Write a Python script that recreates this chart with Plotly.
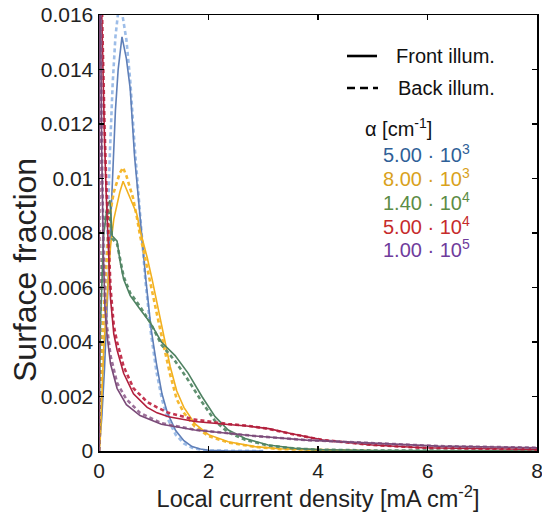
import plotly.graph_objects as go

# ---------------- data ----------------
blue_x = [0, 0.05, 0.1, 0.15, 0.2, 0.25, 0.3, 0.35, 0.42, 0.5, 0.57, 0.65, 0.75, 0.85,
          0.95, 1.05, 1.15, 1.25, 1.4, 1.55, 1.7, 1.85, 2.0, 2.3, 3.0]
blue_front = [0, 0.0012, 0.003, 0.0055, 0.008, 0.0105, 0.0125, 0.014, 0.0152, 0.0144,
              0.0133, 0.0108, 0.0085, 0.0064, 0.0045, 0.0032, 0.0021, 0.0014, 0.00075,
              0.00038, 0.00016, 0.00007, 0.00003, 0.00001, 0.0]
blue_back = [0, 0.0018, 0.0045, 0.0078, 0.011, 0.0135, 0.0152, 0.0161, 0.0161, 0.0151,
             0.0136, 0.0112, 0.0086, 0.0062, 0.0043, 0.0029, 0.0019, 0.0012, 0.0006,
             0.00028, 0.00012, 0.00005, 0.00002, 0.00001, 0.0]

yellow_x = [0, 0.02, 0.05, 0.085, 0.12, 0.16, 0.21, 0.27, 0.33, 0.38, 0.44, 0.5, 0.56,
            0.62, 0.69, 0.75, 0.82, 0.88, 0.97, 1.06, 1.2, 1.3, 1.42, 1.55, 1.75, 2.0,
            2.36, 2.85, 3.3, 4.0, 5.0]
yellow_front = [0, 0.0003, 0.0019, 0.0037, 0.0048, 0.006, 0.0075, 0.0085, 0.0091, 0.0095,
                0.0099, 0.0096, 0.0093, 0.009, 0.0087, 0.0081, 0.0076, 0.0071, 0.0063,
                0.0054, 0.0041, 0.0031, 0.0022, 0.0016, 0.001, 0.0006, 0.00034, 0.00016,
                0.00008, 0.00003, 0.0]
yellow_back = [0, 0.0008, 0.0037, 0.0052, 0.0063, 0.0077, 0.0088, 0.0095, 0.0099, 0.0102,
               0.0104, 0.0101, 0.0097, 0.0093, 0.0086, 0.0079, 0.0073, 0.0067, 0.0059,
               0.005, 0.0037, 0.0028, 0.0019, 0.0014, 0.0009, 0.00055, 0.00031, 0.00015,
               0.00007, 0.00003, 0.0]

green_x = [0, 0.025, 0.085, 0.15, 0.2, 0.24, 0.33, 0.39, 0.45, 0.57, 0.75, 0.94, 1.14,
           1.39, 1.63, 1.88, 2.12, 2.36, 2.67, 3.09, 3.58, 4.0, 5.0, 6.5, 8.0]
green_front = [0, 0.0046, 0.0079, 0.009, 0.0092, 0.0079, 0.0077, 0.0069, 0.0063, 0.0057,
               0.0052, 0.0047, 0.004, 0.0035, 0.00285, 0.002, 0.00126, 0.00077, 0.00046,
               0.00022, 0.0001, 0.00005, 0.00002, 0.00001, 0.0]
green_back = [0, 0.005, 0.0082, 0.0089, 0.0086, 0.0078, 0.0076, 0.007, 0.0064, 0.0058,
              0.0053, 0.0047, 0.0039, 0.0033, 0.0026, 0.0018, 0.0011, 0.00068, 0.00041,
              0.0002, 0.00009, 0.00005, 0.00002, 0.00001, 0.0]

red_x = [0, 0.01, 0.04, 0.07, 0.1, 0.13, 0.17, 0.21, 0.27, 0.33, 0.45, 0.63, 0.88, 1.06,
         1.27, 1.75, 2.36, 2.7, 3.1, 3.5, 4.1, 5.0, 5.9, 6.8, 8.0]
red_front = [0, 0.03, 0.017, 0.014, 0.0115, 0.0095, 0.0072, 0.0056, 0.0043, 0.0037,
             0.00285, 0.0021, 0.0016, 0.0014, 0.00126, 0.00108, 0.00097, 0.00092,
             0.00082, 0.00064, 0.0004, 0.00022, 0.00012, 0.0001, 0.00006]
red_back = [0, 0.03, 0.0175, 0.0145, 0.012, 0.01, 0.0077, 0.006, 0.0046, 0.004,
            0.0031, 0.0023, 0.0018, 0.0016, 0.0014, 0.00115, 0.00099, 0.00093,
            0.00081, 0.00063, 0.0004, 0.00022, 0.00012, 0.0001, 0.00006]

purple_x = [0, 0.01, 0.03, 0.05, 0.08, 0.11, 0.15, 0.21, 0.33, 0.5, 0.75, 1.0, 1.14,
            1.75, 2.36, 2.85, 3.79, 5.0, 6.2, 8.0]
purple_front = [0, 0.025, 0.016, 0.011, 0.0072, 0.0052, 0.0042, 0.0032, 0.0023, 0.0017,
                0.0013, 0.00108, 0.00098, 0.00077, 0.00065, 0.00055, 0.0004, 0.00028,
                0.00018, 0.00012]
purple_back = [0, 0.025, 0.0165, 0.0115, 0.0076, 0.0056, 0.0045, 0.0035, 0.0025, 0.0019,
               0.0014, 0.00115, 0.00102, 0.00078, 0.00065, 0.00055, 0.0004, 0.00028,
               0.00018, 0.00012]

x_ticks = [0, 2, 4, 6, 8]
x_tick_labels = ["0", "2", "4", "6", "8"]
y_ticks = [0, 0.002, 0.004, 0.006, 0.008, 0.01, 0.012, 0.014, 0.016]
y_tick_labels = ["0", "0.002", "0.004", "0.006", "0.008", "0.01", "0.012", "0.014", "0.016"]

alpha_labels = ["5.00 · 10<sup>3</sup>", "8.00 · 10<sup>3</sup>", "1.40 · 10<sup>4</sup>",
                "5.00 · 10<sup>4</sup>", "1.00 · 10<sup>5</sup>"]

# ---------------- styles ----------------
series = [
    (blue_x, blue_front, blue_back, "#5f7fb8", "#9dbde8", "#2f5f97"),
    (yellow_x, yellow_front, yellow_back, "#f2b01e", "#f5b830", "#d9a21c"),
    (green_x, green_front, green_back, "#4f8262", "#5f9070", "#5c8c45"),
    (red_x, red_front, red_back, "#b01f3c", "#c43550", "#c62b2b"),
    (purple_x, purple_front, purple_back, "#7a4a78", "#9c7099", "#6f3c9c"),
]

FONT = "Liberation Sans, Arial, sans-serif"
fig = go.Figure()
for xs, yf, yb, cf, cb, _ in series:
    fig.add_trace(go.Scatter(x=xs, y=yb, mode="lines",
                             line=dict(color=cb, width=2.6, dash="4px,3px"),
                             showlegend=False, hoverinfo="skip"))
    fig.add_trace(go.Scatter(x=xs, y=yf, mode="lines",
                             line=dict(color=cf, width=1.6),
                             showlegend=False, hoverinfo="skip"))

W, H = 542, 520
L, R, T, B = 99, 5, 15, 69
pw, ph = W - L - R, H - T - B


def px(xs):  # screen x -> paper
    return (xs - L) / pw


def py(ys):  # screen y -> paper
    return (H - B - ys) / ph


annotations = [
    dict(text="Front illum.", x=px(394), y=py(56), xanchor="left", yanchor="middle",
         font=dict(size=20, color="#111111")),
    dict(text="Back illum.", x=px(396), y=py(88), xanchor="left", yanchor="middle",
         font=dict(size=20, color="#111111")),
    dict(text="α [cm<sup>-1</sup>]", x=px(363), y=py(128), xanchor="left",
         yanchor="middle", font=dict(size=20, color="#111111")),
    dict(text="Surface fraction", x=px(25), y=py(270), xanchor="center",
         yanchor="middle", textangle=-90, font=dict(size=32, color="#222222")),
]
entry_y = [153, 177, 201, 225, 248]
for lab, ey, s in zip(alpha_labels, entry_y, series):
    annotations.append(dict(text=lab, x=px(381), y=py(ey), xanchor="left",
                            yanchor="middle", font=dict(size=20, color=s[5])))
for a in annotations:
    a.update(xref="paper", yref="paper", showarrow=False)

shapes = [
    dict(type="line", xref="paper", yref="paper", x0=px(347), x1=px(377),
         y0=py(56), y1=py(56), line=dict(color="black", width=2.6)),
    dict(type="line", xref="paper", yref="paper", x0=px(347), x1=px(378),
         y0=py(88), y1=py(88), line=dict(color="black", width=2.6, dash="8px,5px")),
]

axis_common = dict(showline=True, linecolor="black", linewidth=1.5, mirror="ticks",
                   ticks="inside", ticklen=5, tickwidth=1.2, tickcolor="black",
                   showgrid=False, zeroline=False, ticklabeloverflow="allow",
                   tickfont=dict(size=21, color="#222222", family=FONT))

fig.update_layout(
    width=W, height=H,
    margin=dict(l=L, r=R, t=T, b=B, autoexpand=False),
    paper_bgcolor="white", plot_bgcolor="white",
    font=dict(family=FONT),
    xaxis=dict(range=[0, 8], tickvals=x_ticks, ticktext=x_tick_labels,
               title=dict(text="Local current density [mA cm<sup>-2</sup>]",
                          font=dict(size=23.5, color="#222222"), standoff=6),
               **axis_common),
    yaxis=dict(range=[0, 0.016], tickvals=y_ticks, ticktext=y_tick_labels,
               **axis_common),
    annotations=annotations,
    shapes=shapes,
    showlegend=False,
)

fig.write_html(
    "out.html",
    config={"displayModeBar": False, "staticPlot": True},
    post_script="document.body.style.margin='0';document.body.style.overflow='hidden';",
)
